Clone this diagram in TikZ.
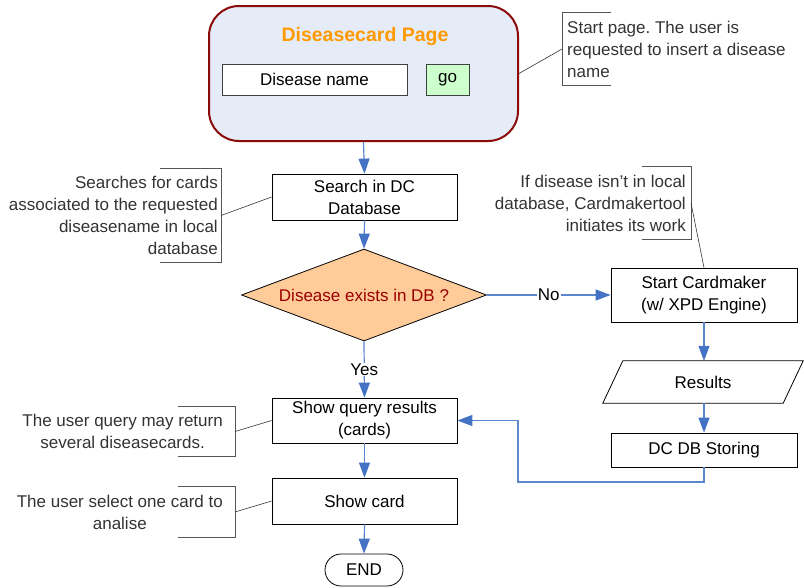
\documentclass[tikz,border=0pt]{standalone}
\usepackage{fontspec}
\setmainfont{Liberation Sans}
\usetikzlibrary{shapes.geometric,arrows.meta,calc}
\definecolor{pageborder}{HTML}{8B0A0A}
\definecolor{pagefill}{HTML}{E6ECF7}
\definecolor{titleorange}{HTML}{FF9900}
\definecolor{gofill}{HTML}{CCFFCC}
\definecolor{decfill}{HTML}{FFCC99}
\definecolor{dectext}{HTML}{990000}
\definecolor{flowline}{HTML}{5B87CC}
\definecolor{flowtip}{HTML}{4472C4}
\definecolor{notetext}{HTML}{333333}
\definecolor{notegray}{HTML}{555555}
\frenchspacing

\begin{document}
\begin{tikzpicture}[x=1pt,y=-1pt,
  font=\fontsize{17}{22}\selectfont,
  proc/.style={draw=black, line width=0.8pt, fill=white, minimum width=185pt,
    inner sep=0pt, align=center},
  field/.style={draw=black!75, line width=0.8pt, inner sep=0pt, minimum height=31pt},
  flow/.style={draw=flowline, line width=1.2pt,
    -{Triangle[length=15pt,width=11pt,fill=flowtip,color=flowtip]}},
  flowlabel/.style={fill=white, inner sep=1pt, text=black},
  note/.style={text=notetext, inner ysep=0pt},
  bracket/.style={draw=notegray, line width=0.7pt},
  leader/.style={draw=black!80, line width=0.6pt},
]
\useasboundingbox (0,0) rectangle (804,587);

% entry page with its input field and button
\node[draw=pageborder, line width=2pt, fill=pagefill, rounded corners=30pt,
  minimum width=309pt, minimum height=135pt] (page) at (363.5,73.5) {};
\node[text=titleorange, font=\fontsize{19.5}{22}\selectfont\bfseries] (title) at (365,36) {Diseasecard Page};
\node[field, fill=white, minimum width=185pt] (namebox) at (314.5,79.5) {Disease name};
\node[field, fill=gofill, minimum width=43pt] (gobox) at (447.5,79.5) {go};

% main flow
\node[proc, minimum height=46pt] (search) at (364.5,197) {Search in DC\\Database};
\node[diamond, draw=black, line width=0.8pt, fill=decfill, text=dectext, aspect=2.66,
  minimum width=245pt, minimum height=92pt, inner sep=0pt] (exists) at (364,295) {Disease exists in DB ?};
\node[proc, minimum width=186pt, minimum height=54pt] (cardmaker) at (704,295) {Start Cardmaker\\(w/ XPD Engine)};
\node[minimum width=200pt, minimum height=42pt, inner sep=0pt] (results) at (703,382) {Results};
\draw[black, line width=0.8pt] ([xshift=20pt]results.north west) -- (results.north east)
  -- ([xshift=-20pt]results.south east) -- (results.south west) -- cycle;
\node[proc, minimum width=186pt, minimum height=34pt] (store) at (704,450) {DC DB Storing};
\node[proc, minimum height=45pt] (showq) at (364.5,420.5) {Show query results\\(cards)};
\node[proc, minimum height=46pt] (showcard) at (364.5,501) {Show card};
\node[draw=black, line width=0.8pt, rounded corners=16pt, minimum width=78pt,
  minimum height=32pt, inner sep=0pt] (end) at (364,570) {END};
\coordinate (loop) at (518,482);

% connectors
\draw[flow] (page.south) -- (search.north);
\draw[flow] (search.south) -- (exists.north);
\draw[flow] (exists.south) -- node[flowlabel] {Yes} (showq.north);
\draw[flow] (exists.east) -- node[flowlabel] {No} (cardmaker.west);
\draw[flow] (cardmaker.south) -- (cardmaker.south |- results.north);
\draw[flow] (cardmaker.south |- results.south) -- (store.north);
\draw[flow] (store.south) |- (loop) |- (showq.east);
\draw[flow] (showq.south) -- (showcard.north);
\draw[flow] (showcard.south) -- (end.north);

% annotations
\node[note, anchor=west, align=left, inner xsep=5pt, minimum height=72pt] (n1) at (562,49)
  {Start page. The user is\\requested to insert a disease\\name};
\draw[bracket] ([xshift=49pt]n1.north west) -- (n1.north west) -- (n1.south west) -- ([xshift=49pt]n1.south west);
\draw[leader] (page.east) -- (n1.west);

\node[note, anchor=east, align=right, inner xsep=3pt, minimum height=93pt] (n2) at (221,215.5)
  {Searches for cards\\associated to the requested\\diseasename in local\\database};
\draw[bracket] ([xshift=-61pt]n2.north east) -- (n2.north east) -- (n2.south east) -- ([xshift=-61pt]n2.south east);
\draw[leader] (n2.east) -- (search.west);

\node[note, anchor=east, align=right, inner xsep=5pt, minimum height=72pt] (n3) at (691,203)
  {If disease isn’t in local\\database, Cardmakertool\\initiates its work};
\draw[bracket] ([xshift=-49pt]n3.north east) -- (n3.north east) -- (n3.south east) -- ([xshift=-49pt]n3.south east);
\draw[leader] (n3.east) -- (cardmaker.north);

\node[note, anchor=east, align=center, inner xsep=12pt, minimum height=49pt] (n4) at (235,431.5)
  {The user query may return\\several diseasecards.};
\draw[bracket] ([xshift=-57pt]n4.north east) -- (n4.north east) -- (n4.south east) -- ([xshift=-57pt]n4.south east);
\draw[leader] (n4.east) -- (showq.west);

\node[note, anchor=east, align=center, inner xsep=12pt, minimum height=50pt] (n5) at (235,512)
  {The user select one card to\\analise};
\draw[bracket] ([xshift=-57pt]n5.north east) -- (n5.north east) -- (n5.south east) -- ([xshift=-57pt]n5.south east);
\draw[leader] (n5.east) -- (showcard.west);
\end{tikzpicture}
\end{document}
